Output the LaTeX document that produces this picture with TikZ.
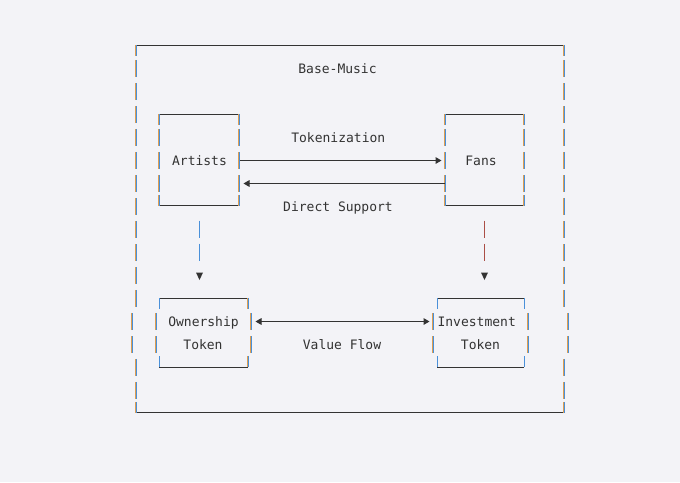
\documentclass[tikz,border=0pt]{standalone}
\usepackage{fontspec}
\setmonofont{DejaVu Sans Mono}
\usetikzlibrary{arrows.meta}
\definecolor{bg}{RGB}{243,243,247}
\definecolor{ink}{RGB}{51,51,51}
\definecolor{fringeO}{RGB}{222,158,82}
\definecolor{fringeB}{RGB}{74,144,217}
\definecolor{redbar}{RGB}{170,78,70}
\newcommand\mybar[3]{\fill[fringeO] ({#1-0.7},{#2}) rectangle ({#1},{#3});\fill[fringeB] ({#1},{#2}) rectangle ({#1+0.9},{#3});}
\newcommand\rowbar[2]{\mybar{#1}{45+23*#2-8.5}{45+23*#2+8.5}}
\newcommand\topcorner[2]{\mybar{#1}{45+23*#2}{45+23*#2+11}}
\newcommand\botcorner[2]{\mybar{#1}{45+23*#2-11}{45+23*#2}}
\begin{document}
\begin{tikzpicture}[x=0.75pt,y=-0.75pt,
  lbl/.style={font=\ttfamily\fontsize{9.75pt}{12pt}\selectfont, text=ink, inner sep=0pt, anchor=base},
  hline/.style={draw=ink, line width=0.75pt},
  conn/.style={draw=ink, line width=0.75pt},
  tip/.style={-{Triangle[length=4.5pt,width=5pt]}},
  dtip/.style={{Triangle[length=4.5pt,width=5pt]}-{Triangle[length=4.5pt,width=5pt]}},
  dbar/.style={line width=1pt, dash pattern=on 12.75pt off 4.5pt},
]
\fill[bg] (0,0) rectangle (680,482);
\useasboundingbox (0,0) rectangle (680,482);

% ---------- outer box ----------
\draw[hline] (136,45.5) -- (564,45.5);
\draw[hline] (136,412.5) -- (564,412.5);
\topcorner{136}{0}\topcorner{564}{0}
\botcorner{136}{16}\botcorner{564}{16}
\foreach \r in {1,...,11,14,15}{\rowbar{136}{\r}\rowbar{564}{\r}}
\foreach \r in {12,13}{\rowbar{132}{\r}\rowbar{568}{\r}}

% ---------- Artists box ----------
\draw[hline] (159,114.5) -- (239,114.5);
\draw[hline] (159,205.5) -- (239,205.5);
\topcorner{159}{3}\topcorner{239}{3}
\botcorner{159}{7}\botcorner{239}{7}
\foreach \r in {4,5,6}{\rowbar{159}{\r}\rowbar{239}{\r}}

% ---------- Fans box ----------
\draw[hline] (445,114.5) -- (524,114.5);
\draw[hline] (445,205.5) -- (524,205.5);
\topcorner{445}{3}\topcorner{524}{3}
\botcorner{445}{7}\botcorner{524}{7}
\foreach \r in {4,5,6}{\rowbar{445}{\r}\rowbar{524}{\r}}

% ---------- Ownership box ----------
\draw[hline] (159.3,298.5) -- (247.7,298.5);
\draw[hline] (159.3,367.5) -- (247.7,367.5);
\topcorner{159.3}{11}\topcorner{247.7}{11}
\botcorner{159.3}{14}\botcorner{247.7}{14}
\foreach \r in {12,13}{\rowbar{156}{\r}\rowbar{251}{\r}}

% ---------- Investment box ----------
\draw[hline] (437.3,298.5) -- (524.3,298.5);
\draw[hline] (437.3,367.5) -- (524.3,367.5);
\topcorner{437.3}{11}\topcorner{524.3}{11}
\botcorner{437.3}{14}\botcorner{524.3}{14}
\foreach \r in {12,13}{\rowbar{433}{\r}\rowbar{528}{\r}}

% ---------- texts ----------
\node[lbl] (title) at (337.5,73) {Base-Music};
\node[lbl] (tok) at (338.3,142) {Tokenization};
\node[lbl] (artists) at (199.5,165) {Artists};
\node[lbl] (fans) at (481,165) {Fans};
\node[lbl] (direct) at (338,211) {Direct Support};
\node[lbl] (own) at (203.5,326) {Ownership};
\node[lbl] (owntok) at (203,349) {Token};
\node[lbl] (inv) at (476.7,326) {Investment};
\node[lbl] (invtok) at (480.5,349) {Token};
\node[lbl] (value) at (342,349) {Value Flow};

% ---------- connectors ----------
\coordinate (aR) at (239.8,160.5);
\coordinate (fL) at (441.5,160.5);
\coordinate (fL2) at (445,183.5);
\coordinate (aR2) at (243.5,183.5);
\coordinate (oR) at (255.5,321.5);
\coordinate (iL) at (429.5,321.5);
\draw[conn,tip] (aR) -- (fL);
\draw[conn,tip] (fL2) -- (aR2);
\draw[conn,dtip] (oR) -- (iL);

% down arrows
\coordinate (dl1) at (199.5,220.5);
\coordinate (dl2) at (199.5,262);
\coordinate (dr1) at (484.5,220.5);
\coordinate (dr2) at (484.5,262);
\draw[dbar, draw=fringeB] (dl1) -- (dl2);
\draw[dbar, draw=redbar] (dr1) -- (dr2);
\fill[ink] (196,272.5) -- (203,272.5) -- (199.5,280) -- cycle;
\fill[ink] (481,272.5) -- (488,272.5) -- (484.5,280) -- cycle;
\end{tikzpicture}
\end{document}
